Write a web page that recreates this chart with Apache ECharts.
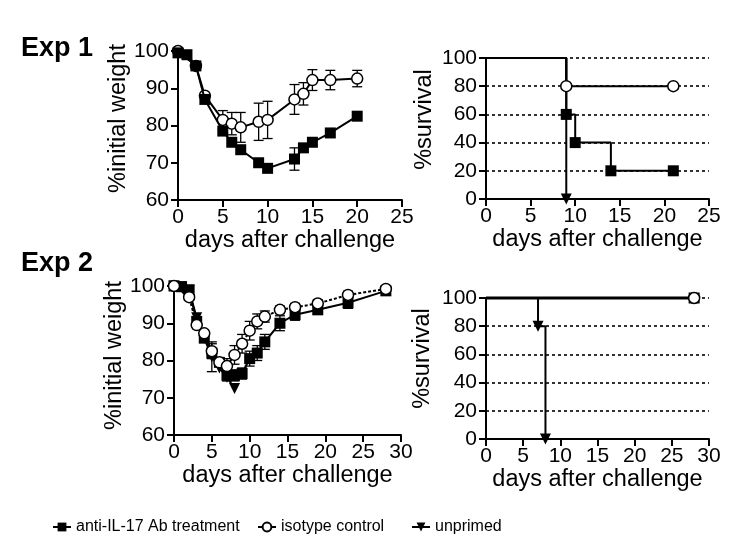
<!DOCTYPE html>
<html>
<head>
<meta charset="utf-8">
<script src="https://cdn.jsdelivr.net/npm/echarts@6/dist/echarts.min.js"></script>
<style>html,body{margin:0;padding:0;background:#fff}#c{width:747px;height:559px}</style>
</head>
<body>
<div id="c"></div>
<script>
// ---------- Data ----------
const seriesNames = ['anti-IL-17 Ab treatment', 'isotype control', 'unprimed'];
const panelTitles = ['Exp 1', 'Exp 2'];
const xAxisName = 'days after challenge';
const weightName = '%initial weight';
const survivalName = '%survival';

// Exp 1 weight
const e1AntiDays = [0, 1, 2, 3, 5, 6, 7, 9, 10, 13, 14, 15, 17, 20];
const e1AntiW    = [99.5, 99, 96, 87, 78.5, 75.5, 73.5, 70, 68.5, 71, 74, 75.5, 78, 82.5];
const e1AntiErr  = [0, 0, 0, 0, 0, 0, 0, 0, 0, 3, 0, 0, 0, 0];
const e1IsoDays  = [0, 2, 3, 5, 6, 7, 9, 10, 13, 14, 15, 17, 20];
const e1IsoW     = [100, 96, 88, 81.5, 80.5, 79.5, 81, 81.5, 87, 88.5, 92.2, 92.2, 92.6];
const e1IsoErr   = [0, 0, 0, 2.5, 3, 4, 5, 5, 4, 3, 2.8, 2.6, 2.2];

// Exp 1 survival
const s1AntiDays = [0, 9, 10, 14, 21];
const s1AntiPct  = [100, 60, 40, 20, 20];
const s1IsoDays  = [0, 9, 21];
const s1IsoPct   = [100, 80, 80];
const s1UnpDays  = [0, 9];
const s1UnpPct   = [100, 0];

// Exp 2 weight
const e2AntiDays = [0, 1, 2, 3, 4, 5, 6, 7, 8, 9, 10, 11, 12, 14, 16, 19, 23, 28];
const e2AntiW    = [100, 99.8, 99, 90.5, 86, 82, 79.5, 76, 76, 76.5, 80.5, 82, 85, 90, 92.3, 93.6, 95.5, 98.7];
const e2AntiErr  = [0, 0, 0, 0, 0, 0, 0, 1.5, 1.5, 1.5, 2, 2, 2, 2, 1.5, 1, 1.5, 0];
const e2IsoDays  = [0, 2, 3, 4, 5, 6, 7, 8, 9, 10, 11, 12, 14, 16, 19, 23, 28];
const e2IsoW     = [100, 97, 89.5, 87.3, 82.5, 79.5, 78.5, 81.5, 84.5, 88, 90.5, 91.8, 93.6, 94.3, 95.3, 97.6, 99.2];
const e2IsoErr   = [0, 0, 0, 0, 2, 0, 2, 2.5, 2.5, 2.5, 2, 1.5, 1, 1, 1, 1, 0];
const e2UnpDays  = [0, 1, 2, 3, 4, 5, 6, 7, 8];
const e2UnpW     = [100, 99.8, 98.8, 91.5, 86, 81, 78, 75.5, 72.5];
const e2UnpErr   = [0, 0, 0, 0, 0, 4, 0, 0, 0];

// Exp 2 survival
const s2AntiDays = [0, 28];
const s2AntiPct  = [100, 100];
const s2IsoDays  = [0, 28];
const s2IsoPct   = [100, 100];
const s2UnpDays  = [0, 7, 8];
const s2UnpPct   = [100, 80, 0];

// Tick settings
const weightTicks = {min: 60, max: 100, interval: 10};
const survTicks = {min: 0, max: 100, interval: 20};
const x1Ticks = {min: 0, max: 25, interval: 5};
const x2Ticks = {min: 0, max: 30, interval: 5};

// ---------- Helpers ----------
const FONT = 'Liberation Sans';
const pairs = (xs, ys) => xs.map((x, i) => [x, ys[i]]);
const kmData = (xs, ys) => xs.map((x, i) => i === 0 ? {value: [x, ys[i]], symbol: 'none'} : [x, ys[i]]);
const errData = (xs, ys, es) => xs.map((x, i) => [x, ys[i] - es[i], ys[i] + es[i]]).filter((d, i) => es[i] > 0);

const symAnti = {symbol: 'rect', symbolSize: 11, itemStyle: {color: '#000', borderColor: '#000', borderWidth: 0}};
const symIso = {symbol: 'circle', symbolSize: 11, itemStyle: {color: '#fff', borderColor: '#000', borderWidth: 1.5}};
const symUnp = {symbol: 'triangle', symbolSize: 11, symbolRotate: 180, itemStyle: {color: '#000', borderColor: '#000', borderWidth: 0}};

function lineS(name, sym, data, xi, extra) {
  return Object.assign({
    type: 'line', name, data, xAxisIndex: xi, yAxisIndex: xi, clip: false,
    showAllSymbol: true, animation: false,
    lineStyle: {color: '#000', width: 2}, z: 3
  }, sym, extra || {});
}
function errS(name, data, xi) {
  return {
    type: 'custom', name: name + ' (SEM)', xAxisIndex: xi, yAxisIndex: xi, data, clip: false, z: 2,
    encode: {x: 0, y: [1, 2]}, animation: false,
    renderItem: function (params, api) {
      const x = api.value(0);
      const p1 = api.coord([x, api.value(1)]);
      const p2 = api.coord([x, api.value(2)]);
      const w = 5;
      const st = {stroke: '#000', lineWidth: 1.3};
      return {type: 'group', children: [
        {type: 'line', shape: {x1: p1[0], y1: p1[1], x2: p2[0], y2: p2[1]}, style: st},
        {type: 'line', shape: {x1: p1[0] - w, y1: p1[1], x2: p1[0] + w, y2: p1[1]}, style: st},
        {type: 'line', shape: {x1: p2[0] - w, y1: p2[1], x2: p2[0] + w, y2: p2[1]}, style: st}
      ]};
    }
  };
}

const axisLineStyle = {show: true, onZero: false, lineStyle: {color: '#000', width: 2}};
const tickStyle = {show: true, inside: false, length: 7, lineStyle: {color: '#000', width: 2}};
const labelStyle = {color: '#000', fontFamily: FONT, fontSize: 21};
const nameStyle = {color: '#000', fontFamily: FONT, fontSize: 23.5};

function xAx(gi, t) {
  return Object.assign({type: 'value', gridIndex: gi, name: xAxisName, nameLocation: 'middle', nameGap: 29,
    nameTextStyle: nameStyle, axisLine: axisLineStyle, axisTick: tickStyle,
    axisLabel: Object.assign({margin: 7}, labelStyle), splitLine: {show: false}}, t);
}
function yAx(gi, t, name, gap, grid, pad) {
  return Object.assign({type: 'value', gridIndex: gi, name, nameLocation: 'middle', nameGap: gap,
    nameTextStyle: Object.assign({padding: pad}, nameStyle), axisLine: axisLineStyle, axisTick: tickStyle,
    axisLabel: Object.assign({margin: 9}, labelStyle),
    splitLine: grid ? {show: true, lineStyle: {color: '#000', width: 1.6, type: [3, 3]}} : {show: false}}, t);
}

const chart = echarts.init(document.getElementById('c'), null, {renderer: 'canvas'});
const legendBase = {orient: 'horizontal', top: 519, itemWidth: 18, itemHeight: 11, padding: 0,
  textStyle: {color: '#000', fontFamily: FONT, fontSize: 16}, selectedMode: false};

chart.setOption({
  backgroundColor: '#fff',
  animation: false,
  textStyle: {fontFamily: FONT},
  graphic: [
    {type: 'text', left: 21, top: 35, style: {text: panelTitles[0], fill: '#000', font: 'bold 27px "Liberation Sans"'}},
    {type: 'text', left: 21, top: 250, style: {text: panelTitles[1], fill: '#000', font: 'bold 27px "Liberation Sans"'}}
  ],
  legend: [
    Object.assign({left: 52, data: [seriesNames[0]]}, legendBase),
    Object.assign({left: 257, data: [seriesNames[1]]}, legendBase),
    Object.assign({left: 411, data: [seriesNames[2]], itemWidth: 20}, legendBase)
  ],
  grid: [
    {left: 178, top: 51, width: 224, height: 149},
    {left: 486, top: 58, width: 223, height: 141},
    {left: 174, top: 286, width: 227, height: 149},
    {left: 486, top: 298, width: 223, height: 141}
  ],
  xAxis: [xAx(0, x1Ticks), xAx(1, x1Ticks), xAx(2, x2Ticks), xAx(3, x2Ticks)],
  yAxis: [
    yAx(0, weightTicks, weightName, 46, false, [0, 0, 0, 14]),
    yAx(1, survTicks, survivalName, 49, true, [0, 0, 0, 18]),
    yAx(2, weightTicks, weightName, 41, false, [0, 0, 0, 10]),
    yAx(3, survTicks, survivalName, 51, true, [0, 0, 0, 20])
  ],
  series: [
    // Exp1 weight
    lineS(seriesNames[0], symAnti, pairs(e1AntiDays, e1AntiW), 0, {z: 4}),
    lineS(seriesNames[1], symIso, pairs(e1IsoDays, e1IsoW), 0, {z: 3}),
    errS(seriesNames[1], errData(e1IsoDays, e1IsoW, e1IsoErr), 0),
    errS(seriesNames[0], errData(e1AntiDays, e1AntiW, e1AntiErr), 0),
    // Exp1 survival
    lineS(seriesNames[2], symUnp, kmData(s1UnpDays, s1UnpPct), 1, {step: 'end'}),
    lineS(seriesNames[0], symAnti, kmData(s1AntiDays, s1AntiPct), 1, {step: 'end'}),
    lineS(seriesNames[1], symIso, kmData(s1IsoDays, s1IsoPct), 1, {step: 'end', z: 4}),
    // Exp2 weight
    lineS(seriesNames[0], symAnti, pairs(e2AntiDays, e2AntiW), 2),
    lineS(seriesNames[2], symUnp, pairs(e2UnpDays, e2UnpW), 2),
    lineS(seriesNames[1], symIso, pairs(e2IsoDays, e2IsoW), 2, {z: 4, lineStyle: {color: '#000', width: 2, type: [3, 2]}}),
    errS(seriesNames[1], errData(e2IsoDays, e2IsoW, e2IsoErr), 2),
    errS(seriesNames[0], errData(e2AntiDays, e2AntiW, e2AntiErr), 2),
    errS(seriesNames[2], errData(e2UnpDays, e2UnpW, e2UnpErr), 2),
    // Exp2 survival
    lineS(seriesNames[2], symUnp, kmData(s2UnpDays, s2UnpPct), 3, {step: 'end'}),
    lineS(seriesNames[0], symAnti, kmData(s2AntiDays, s2AntiPct), 3, {step: 'end', lineStyle: {color: '#000', width: 3}}),
    lineS(seriesNames[1], symIso, kmData(s2IsoDays, s2IsoPct), 3, {step: 'end', z: 4})
  ]
});
</script>
</body>
</html>
